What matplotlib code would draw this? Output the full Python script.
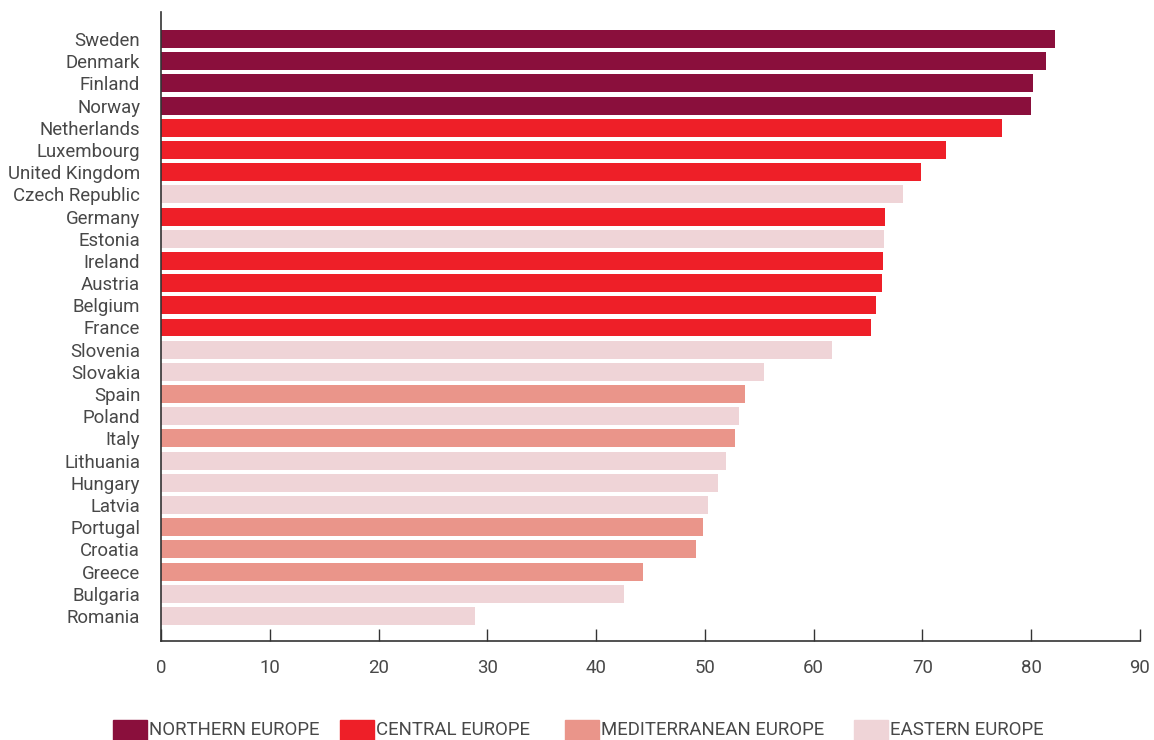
import matplotlib
matplotlib.use("Agg")
import matplotlib.pyplot as plt
from matplotlib.patches import Rectangle

countries = ["Sweden", "Denmark", "Finland", "Norway", "Netherlands", "Luxembourg",
             "United Kingdom", "Czech Republic", "Germany", "Estonia", "Ireland",
             "Austria", "Belgium", "France", "Slovenia", "Slovakia", "Spain", "Poland",
             "Italy", "Lithuania", "Hungary", "Latvia", "Portugal", "Croatia", "Greece",
             "Bulgaria", "Romania"]
values = [82.2, 81.4, 80.2, 80.0, 77.3, 72.2, 69.9, 68.2, 66.6, 66.5, 66.4, 66.3,
          65.7, 65.3, 61.7, 55.4, 53.7, 53.1, 52.8, 51.9, 51.2, 50.3, 49.8, 49.2,
          44.3, 42.6, 28.9]
regions = ["N", "N", "N", "N", "C", "C", "C", "E", "C", "E", "C", "C", "C", "C",
           "E", "E", "M", "E", "M", "E", "E", "E", "M", "M", "M", "E", "E"]

region_names = ["NORTHERN EUROPE", "CENTRAL EUROPE", "MEDITERRANEAN EUROPE", "EASTERN EUROPE"]
region_keys = ["N", "C", "M", "E"]
region_colors = {"N": "#8A0F3C", "C": "#EE1F28", "M": "#EA958A", "E": "#EFD4D7"}

x_ticks = [0, 10, 20, 30, 40, 50, 60, 70, 80, 90]

plt.rcParams["font.family"] = ["Roboto", "DejaVu Sans"]
text_color = "#484848"
fs = 13.4

fig = plt.figure(figsize=(11.54, 7.40), dpi=100)
ax = fig.add_axes([161 / 1154, 1 - 641 / 740, (1140 - 161) / 1154, (641 - 12) / 740])

ypos = list(range(len(countries)))
ax.barh(ypos, values, height=0.81, color=[region_colors[r] for r in regions], zorder=2)

ax.set_xlim(0, 90)
ax.set_ylim(len(countries) - 1 + 1.13, -1.22)
ax.set_yticks(ypos)
ax.set_yticklabels(countries, fontsize=fs, color=text_color)
ax.tick_params(axis="y", length=0, pad=15)
ax.set_xticks(x_ticks)
ax.set_xticklabels([str(t) for t in x_ticks], fontsize=fs, color=text_color)
ax.tick_params(axis="x", direction="in", length=9, width=1, color="#333333", pad=13)

for side in ("top", "right"):
    ax.spines[side].set_visible(False)
for side in ("left", "bottom"):
    ax.spines[side].set_color("#333333")
    ax.spines[side].set_linewidth(1.2)

# legend row along the bottom
patch_x = [113, 340, 565, 854]
for px, key, name in zip(patch_x, region_keys, region_names):
    fig.patches.append(Rectangle((px / 1154, 0), 34 / 1154, 20 / 740,
                                 transform=fig.transFigure, color=region_colors[key]))
    fig.text((px + 36) / 1154, 1 - 730 / 740, name, fontsize=fs, color=text_color,
             va="center", ha="left")

fig.savefig("out.png", dpi=100, facecolor="white")
